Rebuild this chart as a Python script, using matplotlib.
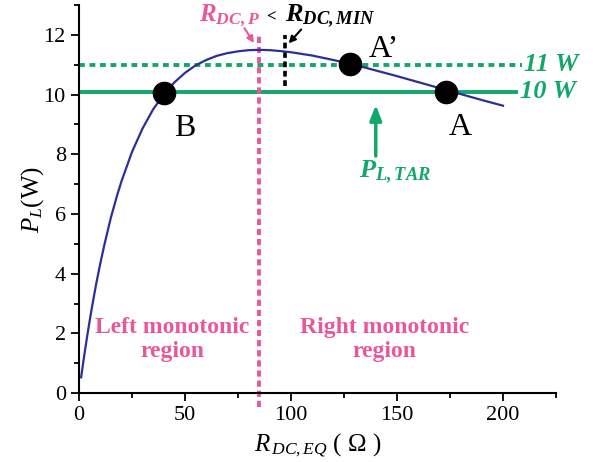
import matplotlib
matplotlib.use("Agg")
import matplotlib.pyplot as plt

# ---------data-------------------
r_dc = [1, 2, 3, 4, 5, 6, 8, 10, 12, 15, 18, 20, 25, 30, 35, 40, 45, 50, 55, 60,
        65, 70, 75, 80, 85, 90, 95, 100, 110, 120, 130, 140, 150, 160, 170, 180,
        190, 200]
p_load = [0.53, 1.03, 1.51, 1.97, 2.41, 2.83, 3.62, 4.33, 4.98, 5.87, 6.63, 7.09,
          8.08, 8.87, 9.51, 10.01, 10.41, 10.73, 10.98, 11.16, 11.30, 11.39, 11.45,
          11.49, 11.50, 11.49, 11.46, 11.42, 11.31, 11.16, 11.00, 10.81, 10.62,
          10.42, 10.22, 10.02, 9.82, 9.63]

pt_names = ["B", "A'", "A"]
pt_x = [40, 128, 173]
pt_y = [10.05, 11.02, 10.1]

p_target = 10.1
p_high = 11.0
r_dc_p = 85
r_dc_min = 97
# ---------------------------------

plt.rcParams["font.family"] = ["Liberation Serif", "DejaVu Serif"]
plt.rcParams["mathtext.fontset"] = "custom"
plt.rcParams["mathtext.rm"] = "Liberation Serif"
plt.rcParams["mathtext.it"] = "Liberation Serif:italic"
plt.rcParams["mathtext.bf"] = "Liberation Serif:bold:italic"

green = "#13a86a"
pink = "#e9579b"
navy = "#2b2f96"

fig = plt.figure(figsize=(6.03, 4.62), dpi=100)
ax = fig.add_axes([0.131, 0.149, 0.791, 0.84])

ax.plot(r_dc, p_load, color=navy, linewidth=1.6, zorder=3)

ax.plot([0, 206], [p_target, p_target], color=green, linewidth=2.8, zorder=2)
ax.plot([0, 209], [p_high, p_high], color=green, linewidth=2.8,
        linestyle=(0, (1.5, 1.2)), zorder=2)

ax.plot([r_dc_p, r_dc_p], [-0.45, 11.95], color=pink, linewidth=2.8,
        linestyle=(0, (1.6, 1.0)), clip_on=False, zorder=2)
ax.plot([r_dc_min, r_dc_min], [10.3, 12.0], color="black", linewidth=2.6,
        linestyle=(0, (1.6, 1.0)), zorder=2)

ax.plot(pt_x, pt_y, "o", color="black", markersize=16, zorder=4)
offs = {"B": (10, -1.2), "A'": (16, 0.5), "A": (7, -1.2)}
for n, x, y in zip(pt_names, pt_x, pt_y):
    dx, dy = offs[n]
    ax.text(x + dx, y + dy, n.replace("'", "\u2019"), fontsize=23,
            ha="center", va="center")

ax.text(210, p_high, "11 W", color=green, fontsize=19, fontweight="bold",
        fontstyle="italic", va="center", ha="left")
ax.text(208, p_target, "10 W", color=green, fontsize=19, fontweight="bold",
        fontstyle="italic", va="center", ha="left")

ax.annotate("", xy=(140, 9.75), xytext=(140, 7.85),
            arrowprops=dict(arrowstyle="-|>,head_width=0.35,head_length=0.9",
                            color=green, lw=2.5))
ax.text(149, 7.4, r"$\mathbf{P_{L,TAR}}$", color=green, fontsize=19,
        ha="center", va="center")

ax.text(71, 12.62, r"$\mathbf{R_{DC,P}}$", color=pink, fontsize=18,
        ha="center", va="center")
ax.text(90.5, 12.6, "<", color="black", fontsize=12, fontweight="bold",
        ha="center", va="center")
ax.text(118.5, 12.62, r"$\mathbf{R_{DC,MIN}}$", color="black", fontsize=19,
        ha="center", va="center")
ax.annotate("", xy=(83.2, 11.65), xytext=(77.4, 12.3),
            arrowprops=dict(arrowstyle="-|>,head_width=0.2,head_length=0.4",
                            color=pink, lw=1.5))
ax.annotate("", xy=(98, 11.65), xytext=(105.7, 12.25),
            arrowprops=dict(arrowstyle="-|>,head_width=0.2,head_length=0.4",
                            color="black", lw=1.5))

ax.text(44, 1.8, "Left monotonic\nregion", color=pink, fontsize=17,
        fontweight="bold", ha="center", va="center", linespacing=1.2)
ax.text(144, 1.8, "Right monotonic\nregion", color=pink, fontsize=17,
        fontweight="bold", ha="center", va="center", linespacing=1.2)

ax.set_xlim(0, 225)
ax.set_ylim(0, 13)
ax.set_xticks([0, 50, 100, 150, 200])
ax.set_xticks(range(25, 226, 50), minor=True)
ax.set_yticks([0, 2, 4, 6, 8, 10, 12])
ax.set_yticks(range(1, 14, 2), minor=True)
ax.spines["top"].set_visible(False)
ax.spines["right"].set_visible(False)
for s in ["left", "bottom"]:
    ax.spines[s].set_linewidth(1.5)
ax.tick_params(which="major", direction="out", length=6, width=1.3, labelsize=16)
ax.tick_params(which="minor", direction="out", length=3.5, width=1.3)

ax.set_xlabel(r"$R_{\,DC,EQ}$ ( $\Omega$ )", fontsize=18)
ax.set_ylabel(r"$P_L$(W)", fontsize=18)
ax.yaxis.set_label_coords(-0.07, 0.5)

fig.savefig("out.png", dpi=100)
